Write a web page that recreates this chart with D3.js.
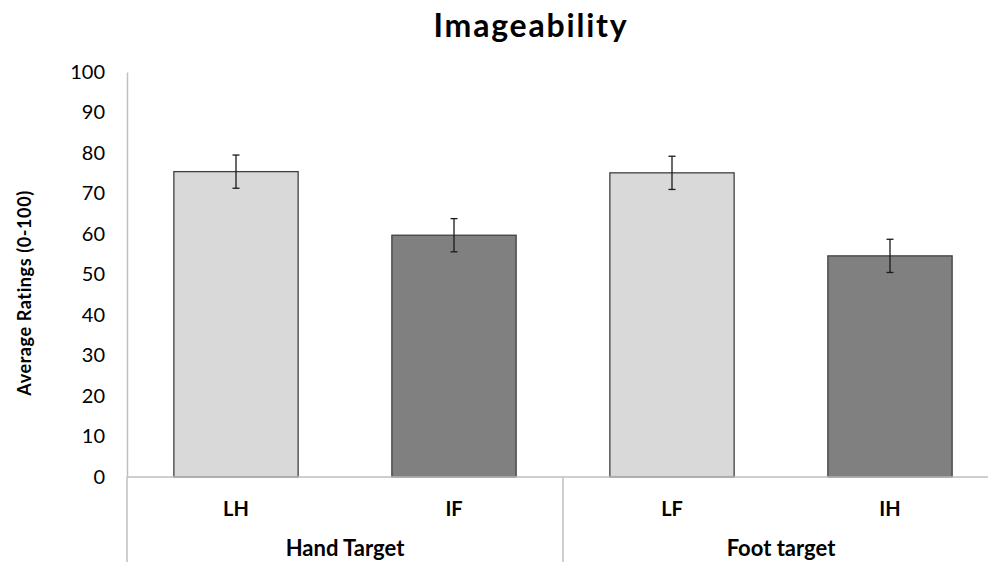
<!DOCTYPE html>
<html><head><meta charset="utf-8">
<script src="https://cdn.jsdelivr.net/npm/d3@7/dist/d3.min.js"></script>
<style>body{margin:0;background:#fff;} svg{display:block;}</style>
</head><body>
<svg id="c" width="988" height="562"></svg>
<script>
const categories = ["LH", "IF", "LF", "IH"];
const groups = ["Hand Target", "Foot target"];
const values = [75.4, 59.7, 75.1, 54.6];
const errors = [4.1, 4.1, 4.1, 4.1];
const barKinds = ["light", "dark", "light", "dark"];
const yTicks = [0, 10, 20, 30, 40, 50, 60, 70, 80, 90, 100];

(function () {
const svg = d3.select("#c");
const font = "Lato, 'Open Sans', sans-serif";
const mLeft = 127, mRight = 999, mTop = 72, mBottom = 477;

const x = d3.scaleBand().domain(categories).range([mLeft, mRight]).paddingInner(0.43).paddingOuter(0.215);
const y = d3.scaleLinear().domain([0, 100]).range([mBottom, mTop]);
const fill = {light: "#d9d9d9", dark: "#808080"};

// title
svg.append("text").attr("x", 531).attr("y", 37).attr("text-anchor", "middle")
  .attr("font-family", font).attr("font-weight", "bold").attr("font-size", 32)
  .attr("letter-spacing", 1.8).text("Imageability");

// y axis
const ya = svg.append("g").attr("transform", `translate(${mLeft},0)`)
  .call(d3.axisLeft(y).tickValues(yTicks).tickSize(0).tickPadding(22));
ya.select(".domain").attr("stroke", "#bfbfbf").attr("stroke-width", 1.5);
ya.selectAll("text").attr("font-family", font).attr("font-size", 20).attr("fill", "#000");

// y label
svg.append("text").attr("transform", "translate(31,293) rotate(-90)").attr("text-anchor", "middle")
  .attr("font-family", font).attr("font-weight", "bold").attr("font-size", 18)
  .attr("letter-spacing", 0.6).text("Average Ratings (0-100)");

// bars
svg.selectAll("rect.bar").data(categories).join("rect").attr("class", "bar")
  .attr("x", d => x(d)).attr("width", x.bandwidth())
  .attr("y", (d, i) => y(values[i])).attr("height", (d, i) => y(0) - y(values[i]))
  .attr("fill", (d, i) => fill[barKinds[i]]).attr("stroke", "#404040").attr("stroke-width", 1.3);

// error bars
const eb = svg.selectAll("g.err").data(categories).join("g").attr("class", "err")
  .attr("stroke", "#1a1a1a").attr("stroke-width", 1.3);
const cx = d => x(d) + x.bandwidth() / 2;
eb.append("line").attr("x1", cx).attr("x2", cx)
  .attr("y1", (d, i) => y(values[i] + errors[i])).attr("y2", (d, i) => y(values[i] - errors[i]));
eb.append("line").attr("x1", d => cx(d) - 3.5).attr("x2", d => cx(d) + 3.5)
  .attr("y1", (d, i) => y(values[i] + errors[i])).attr("y2", (d, i) => y(values[i] + errors[i]));
eb.append("line").attr("x1", d => cx(d) - 3.5).attr("x2", d => cx(d) + 3.5)
  .attr("y1", (d, i) => y(values[i] - errors[i])).attr("y2", (d, i) => y(values[i] - errors[i]));

// x axis line
svg.append("line").attr("x1", mLeft).attr("x2", mRight).attr("y1", y(0)).attr("y2", y(0))
  .attr("stroke", "#bfbfbf").attr("stroke-width", 1.5);

// group separators
const gx = d3.scaleBand().domain(groups).range([mLeft, mRight]);
[mLeft, gx(groups[1]), mRight].forEach(v => {
  svg.append("line").attr("x1", v).attr("x2", v).attr("y1", y(0)).attr("y2", 562)
    .attr("stroke", "#bfbfbf").attr("stroke-width", 1.5);
});

// category labels
svg.selectAll("text.cat").data(categories).join("text").attr("class", "cat")
  .attr("x", cx).attr("y", 516).attr("text-anchor", "middle")
  .attr("font-family", font).attr("font-weight", "bold").attr("font-size", 20).text(d => d);

// group labels
svg.selectAll("text.grp").data(groups).join("text").attr("class", "grp")
  .attr("x", d => gx(d) + gx.bandwidth() / 2).attr("y", 556).attr("text-anchor", "middle")
  .attr("font-family", font).attr("font-weight", "bold").attr("font-size", 22).text(d => d);
})();
</script>
</body></html>
